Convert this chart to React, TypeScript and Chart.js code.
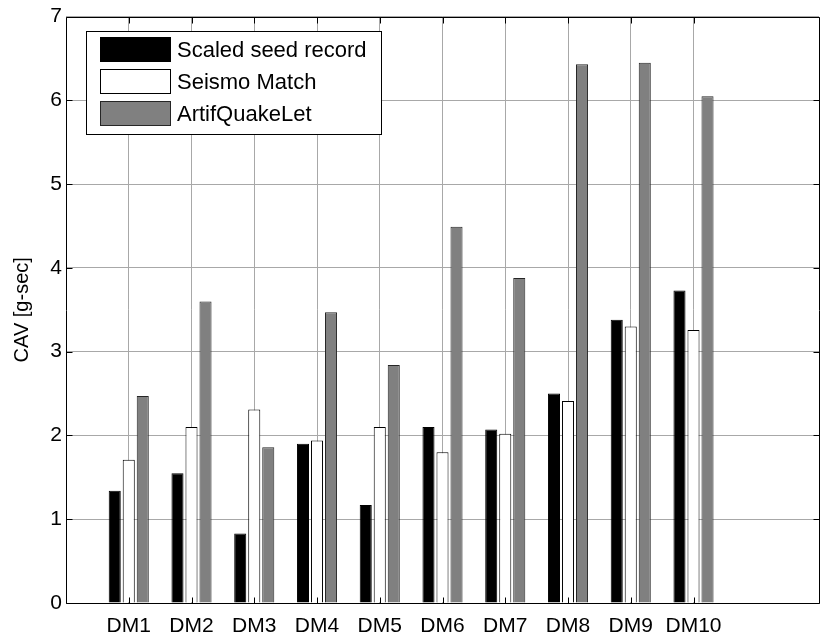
import React, { useEffect, useRef } from "react";
import { Chart, registerables } from "chart.js";

Chart.register(...registerables);

// Damage-measure cases along the x axis
const categories = ["DM1", "DM2", "DM3", "DM4", "DM5", "DM6", "DM7", "DM8", "DM9", "DM10"];

// Cumulative absolute velocity per case, g-sec
const scaledSeed = [1.34, 1.55, 0.83, 1.9, 1.17, 2.1, 2.07, 2.5, 3.38, 3.73];
const seismoMatch = [1.71, 2.1, 2.31, 1.94, 2.1, 1.8, 2.02, 2.41, 3.3, 3.26];
const artifQuake = [2.47, 3.6, 1.86, 3.47, 2.84, 4.49, 3.88, 6.43, 6.45, 6.05];

const seriesNames = ["Scaled seed record", "Seismo Match", "ArtifQuakeLet"];
const seriesFill = ["#000000", "#ffffff", "#808080"];
const seriesEdge = ["#000000", "#000000", "#262626"];

const yMin = 0;
const yMax = 7;
const xMin = 0;
const xMax = 12;

const FONT = "'Liberation Sans', Arial, Helvetica, sans-serif";

const toPoints = (vals: number[]) => vals.map((y, i) => ({ x: i + 1, y }));

// Axes box with inward tick marks on all four sides
const frame = {
  id: "frame",
  afterDatasetsDraw(chart: any) {
    const { ctx, chartArea: a, scales } = chart;
    const L = Math.round(a.left) + 0.5;
    const R = Math.round(a.right) + 0.5;
    const T = Math.round(a.top) + 0.5;
    const B = Math.round(a.bottom) + 0.5;
    ctx.save();
    ctx.strokeStyle = "#000";
    ctx.lineWidth = 1;
    ctx.beginPath();
    ctx.rect(L, T, R - L, B - T);
    const len = 6;
    scales.x.ticks.forEach((t: any) => {
      const px = Math.round(scales.x.getPixelForValue(t.value)) + 0.5;
      ctx.moveTo(px, T);
      ctx.lineTo(px, T + len);
      ctx.moveTo(px, B);
      ctx.lineTo(px, B - len);
    });
    scales.y.ticks.forEach((t: any) => {
      const py = Math.round(scales.y.getPixelForValue(t.value)) + 0.5;
      ctx.moveTo(L, py);
      ctx.lineTo(L + len, py);
      ctx.moveTo(R, py);
      ctx.lineTo(R - len, py);
    });
    ctx.stroke();
    ctx.restore();
  },
};

// Boxed legend in the upper-left corner of the axes
const boxLegend = {
  id: "boxLegend",
  afterDraw(chart: any) {
    const { ctx, chartArea: a } = chart;
    const bx = Math.round(a.left) + 20.5;
    const by = Math.round(a.top) + 14.5;
    const bw = 295;
    const bh = 103;
    ctx.save();
    ctx.fillStyle = "#fff";
    ctx.fillRect(bx, by, bw, bh);
    ctx.strokeStyle = "#000";
    ctx.lineWidth = 1;
    ctx.strokeRect(bx, by, bw, bh);
    ctx.font = `22px ${FONT}`;
    ctx.textBaseline = "middle";
    ctx.textAlign = "left";
    chart.data.datasets.forEach((ds: any, i: number) => {
      const sy = by + 6 + i * 32;
      ctx.fillStyle = ds.backgroundColor;
      ctx.fillRect(bx + 14, sy, 70, 24);
      ctx.strokeStyle = ds.borderColor;
      ctx.strokeRect(bx + 14, sy, 70, 24);
      ctx.fillStyle = "#000";
      ctx.fillText(ds.label, bx + 90.5, sy + 13);
    });
    ctx.restore();
  },
};

export default function App() {
  const canvasRef = useRef<HTMLCanvasElement | null>(null);

  useEffect(() => {
    if (!canvasRef.current) return;
    const seriesValues = [scaledSeed, seismoMatch, artifQuake];
    const chart = new Chart(canvasRef.current, {
      type: "bar",
      data: {
        datasets: seriesValues.map((vals, i) => ({
          label: seriesNames[i],
          data: toPoints(vals),
          backgroundColor: seriesFill[i],
          borderColor: seriesEdge[i],
          borderWidth: 1,
          categoryPercentage: 0.67,
          barPercentage: 0.86,
        })),
      },
      options: {
        responsive: false,
        animation: false,
        parsing: true,
        layout: { padding: { left: 0, top: 13, right: 6, bottom: 0 } },
        plugins: {
          legend: { display: false },
          tooltip: { enabled: false },
        },
        scales: {
          x: {
            type: "linear",
            min: xMin,
            max: xMax,
            offset: false,
            afterBuildTicks: (axis: any) => {
              axis.ticks = categories.map((_, i) => ({ value: i + 1 }));
            },
            afterFit: (axis: any) => {
              axis.height = 39;
            },
            grid: { color: "#a8a8a8", drawTicks: false, offset: false },
            border: { display: false },
            ticks: {
              autoSkip: false,
              maxRotation: 0,
              padding: 11,
              color: "#000",
              font: { family: FONT, size: 21 },
              callback: (v: any) => categories[Number(v) - 1] ?? "",
            },
          },
          y: {
            min: yMin,
            max: yMax,
            afterFit: (axis: any) => {
              axis.width = 66;
            },
            grid: { color: "#a8a8a8", drawTicks: false },
            border: { display: false },
            ticks: {
              stepSize: 1,
              padding: 4,
              color: "#000",
              font: { family: FONT, size: 21 },
            },
            title: {
              display: true,
              text: "CAV [g-sec]",
              color: "#000",
              font: { family: FONT, size: 20 },
              padding: { top: 10, bottom: 0 },
            },
          },
        },
      },
      plugins: [frame, boxLegend],
    });
    return () => chart.destroy();
  }, []);

  return (
    <div style={{ position: "fixed", left: 0, top: 0, width: 825, height: 642, background: "#fff" }}>
      <canvas ref={canvasRef} width={825} height={642} style={{ display: "block" }} />
    </div>
  );
}
